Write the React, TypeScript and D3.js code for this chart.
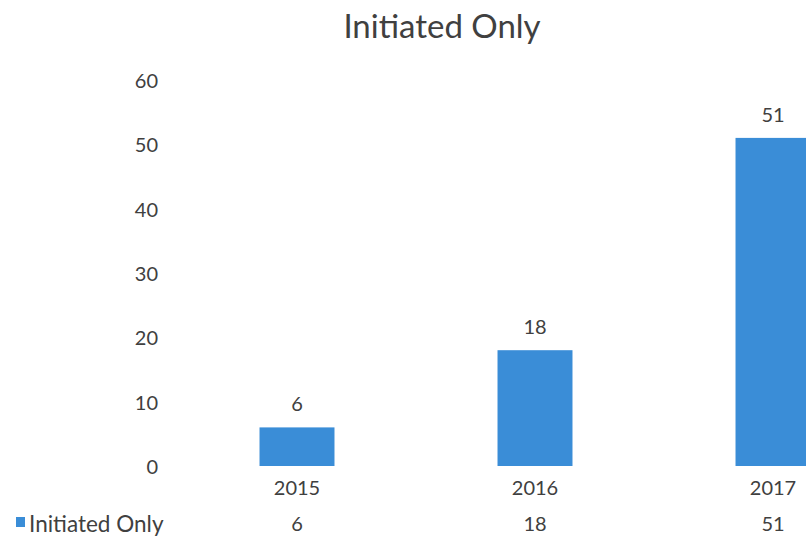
import React from "react";
import * as d3 from "d3";

const categories = ["2015", "2016", "2017"];
const values = [6, 18, 51];
const yTicks = [0, 10, 20, 30, 40, 50, 60];
const seriesName = "Initiated Only";
const title = "Initiated Only";

const W = 806;
const H = 537;
const FONT = "Lato, 'Open Sans', sans-serif";
const TEXT = "#404040";
const BAR = "#3a8dd7";

export default function App() {
  const y = d3.scaleLinear().domain([0, 60]).range([466, 80]);
  const x = d3
    .scaleBand<string>()
    .domain(categories)
    .range([178, 892])
    .paddingInner(0.685)
    .paddingOuter(0.3425);

  return (
    <div style={{ position: "fixed", left: 0, top: 0 }}>
      <svg width={W} height={H} style={{ display: "block", background: "#fff" }}>
        <text x={442} y={25} textAnchor="middle" dominantBaseline="central" fontFamily={FONT} fontSize={33} fill={TEXT}>
          {title}
        </text>
        {yTicks.map((t) => (
          <text key={t} x={158} y={y(t)} textAnchor="end" dominantBaseline="central" fontFamily={FONT} fontSize={20} fill={TEXT}>
            {t}
          </text>
        ))}
        {categories.map((c, i) => {
          const bx = x(c)!;
          const bw = x.bandwidth();
          const cx = bx + bw / 2;
          return (
            <g key={c}>
              <rect x={bx} y={y(values[i])} width={bw} height={y(0) - y(values[i])} fill={BAR} />
              <text x={cx} y={y(values[i]) - 24} textAnchor="middle" dominantBaseline="central" fontFamily={FONT} fontSize={20} fill={TEXT}>
                {values[i]}
              </text>
              <text x={cx} y={487} textAnchor="middle" dominantBaseline="central" fontFamily={FONT} fontSize={20} fill={TEXT}>
                {c}
              </text>
              <text x={cx} y={523} textAnchor="middle" dominantBaseline="central" fontFamily={FONT} fontSize={20} fill={TEXT}>
                {values[i]}
              </text>
            </g>
          );
        })}
        <rect x={16} y={517} width={9} height={10} fill={BAR} />
        <text x={29} y={523} dominantBaseline="central" fontFamily={FONT} fontSize={22.5} fill={TEXT}>
          {seriesName}
        </text>
      </svg>
    </div>
  );
}
